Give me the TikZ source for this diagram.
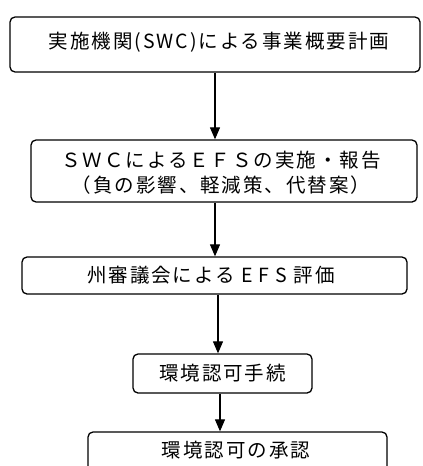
\documentclass[tikz,border=0pt]{standalone}
\usepackage{fontspec}
\newfontfamily\jp[LetterSpace=10]{Noto Sans CJK JP}
\usetikzlibrary{arrows.meta}
\tikzset{
  box/.style={draw=black, line width=1.3pt, rounded corners=5pt, fill=white},
  lbl/.style={font=\jp\fontsize{19.5}{25}\selectfont, align=center, inner sep=0pt},
  arr/.style={line width=1.2pt, -{Triangle[width=10pt,length=12pt]}}
}
\begin{document}
\begin{tikzpicture}[x=1pt,y=-1pt]
\useasboundingbox (0,0) rectangle (423,466);
\clip (0,0) rectangle (423,466);
% boxes
\node[box, minimum width=410pt, minimum height=55pt] (b1) at (215,44.5) {};
\node[lbl] (t1) at (219,42) {実施機関(SWC)による事業概要計画};
\node[box, minimum width=386pt, minimum height=62pt] (b2) at (224,171) {};
\node[lbl] (t2) at (221,173) {ＳＷＣによるＥＦＳの実施・報告\\（負の影響、軽減策、代替案）};
\node[box, minimum width=385pt, minimum height=37pt] (b3) at (214.5,275.5) {};
\node[lbl] (t3) at (211,275) {州審議会による E F S 評価};
\node[box, minimum width=179pt, minimum height=39pt] (b4) at (222.5,373.5) {};
\node[lbl] (t4) at (b4.center) {環境認可手続};
\node[box, minimum width=299pt, minimum height=60pt] (b5) at (237.5,462) {};
\node[lbl] (t5) at (236,450) {環境認可の承認};
% connectors
\coordinate (x1) at (215,0);
\coordinate (x3) at (218,0);
\coordinate (x4) at (220,0);
\draw[arr] (b1.south -| x1) -- (b2.north -| x1);
\draw[arr] (b2.south -| x1) -- (b3.north -| x1);
\draw[arr] (b3.south -| x3) -- (b4.north -| x3);
\draw[arr] (b4.south -| x4) -- (b5.north -| x4);
\end{tikzpicture}
\end{document}
